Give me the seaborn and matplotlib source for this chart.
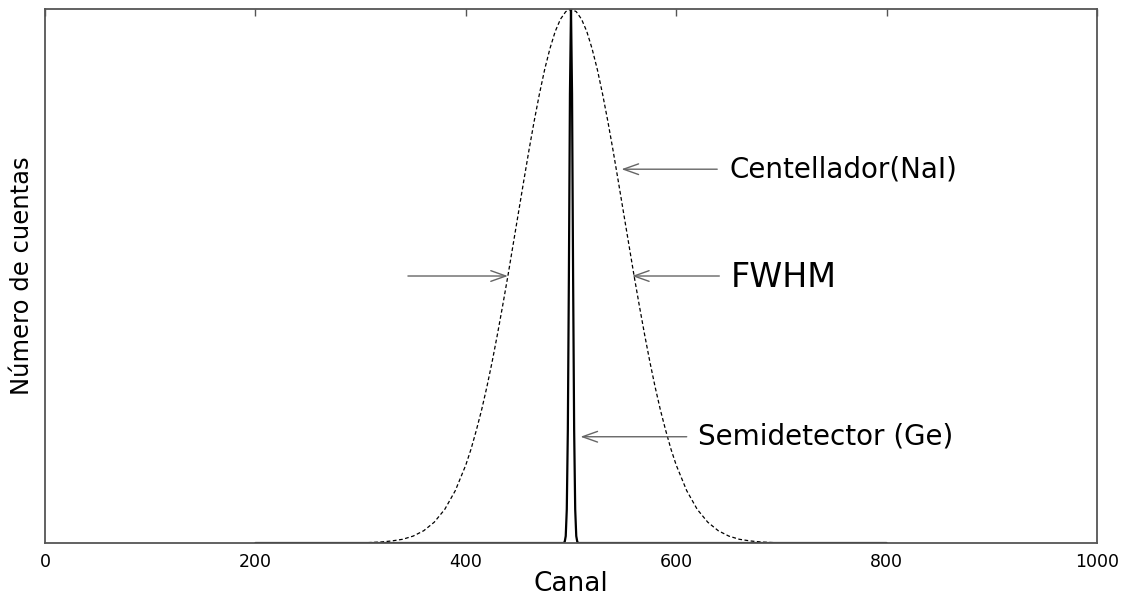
import matplotlib
matplotlib.use("Agg")
import matplotlib.pyplot as plt
import seaborn as sns
import pandas as pd

# NaI scintillator spectrum (counts, peak = 1000); finer sampling around the peak
nai_channel = (list(range(200, 400, 10)) + list(range(400, 601, 5))
               + list(range(610, 801, 10)))
nai_counts = ([0, 0, 0, 0, 0, 0, 0, 0, 0, 0,
               0, 1, 2, 4, 7, 13, 23, 39, 63, 98]
              + [146, 176, 211, 249, 292, 339, 390, 444, 500, 559,
                 618, 677, 735, 790, 841, 887, 926, 958, 981, 995,
                 1000,
                 995, 981, 958, 926, 887, 841, 790, 735, 677, 618,
                 559, 500, 444, 390, 339, 292, 249, 211, 176, 146]
              + [98, 63, 39, 23, 13, 7, 4, 2, 1, 0,
                 0, 0, 0, 0, 0, 0, 0, 0, 0, 0])

# Ge semiconductor detector spectrum (narrow line at channel 500)
ge_channel = [200] + list(range(490, 511)) + [800]
ge_counts = ([0]
             + [0, 0, 0, 0, 2, 13, 63, 211, 500, 841, 1000,
                841, 500, 211, 63, 13, 2, 0, 0, 0, 0]
             + [0])

x_ticks = [0, 200, 400, 600, 800, 1000]

nai = pd.DataFrame({"Canal": nai_channel, "Cuentas": nai_counts})
ge = pd.DataFrame({"Canal": ge_channel, "Cuentas": ge_counts})

sns.set_style("white")
plt.rcParams["font.family"] = ["DejaVu Sans"]
plt.rcParams["text.color"] = "black"
plt.rcParams["axes.labelcolor"] = "black"
plt.rcParams["xtick.color"] = "black"

fig = plt.figure(figsize=(11.25, 5.96), dpi=100)
ax = fig.add_axes([0.040, 0.0889, 0.9351, 0.896])

sns.lineplot(data=nai, x="Canal", y="Cuentas", ax=ax, color="black",
             linewidth=0.9, estimator=None, sort=False)
ax.lines[-1].set_dashes((3, 2))
sns.lineplot(data=ge, x="Canal", y="Cuentas", ax=ax, color="black",
             linewidth=1.6, estimator=None, sort=False)

ax.set_xlim(0, 1000)
ax.set_ylim(0, 1000)
ax.set_xticks(x_ticks)
ax.set_xticklabels([str(t) for t in x_ticks], fontsize=12.5)
ax.set_yticks([])
ax.tick_params(axis="x", direction="in", length=5, width=1, top=True,
               color="#555555", labelcolor="black", pad=7)
for s in ax.spines.values():
    s.set_visible(True)
    s.set_color("#555555")
    s.set_linewidth(1.3)

ax.set_xlabel("Canal", fontsize=19, labelpad=0)
ax.set_ylabel("Número de cuentas", fontsize=17.5, labelpad=8)

arrow = dict(arrowstyle="->,head_length=0.9,head_width=0.32",
             color="#666666", lw=1.0, shrinkA=0, shrinkB=0,
             mutation_scale=12)

# Centellador
ax.annotate("", xy=(548, 700), xytext=(639, 700), arrowprops=arrow)
ax.text(651, 700, "Centellador(NaI)", fontsize=20, ha="left", va="center")

# FWHM
ax.annotate("", xy=(440, 500), xytext=(345, 500), arrowprops=arrow)
ax.annotate("", xy=(558, 500), xytext=(641, 500), arrowprops=arrow)
ax.text(652, 497, "FWHM", fontsize=24, ha="left", va="center")

# Semidetector
ax.annotate("", xy=(509, 199), xytext=(610, 199), arrowprops=arrow)
ax.text(621, 199, "Semidetector (Ge)", fontsize=20, ha="left", va="center")

fig.savefig("out.png", dpi=100)
